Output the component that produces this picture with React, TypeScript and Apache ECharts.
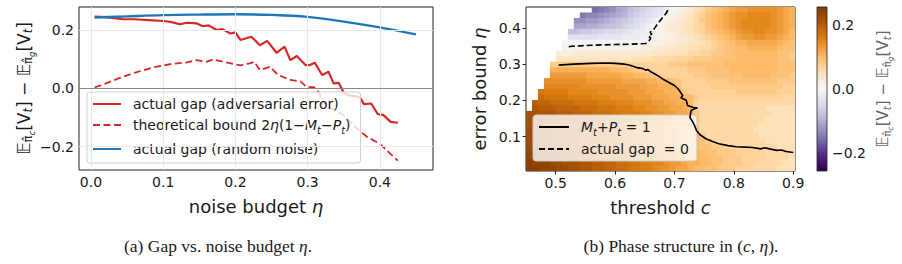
import React, { useEffect, useRef } from 'react';
import * as echarts from 'echarts';

// ---------- (a) gap vs. noise budget ----------
const etaAdv = [0.005, 0.02, 0.035, 0.045, 0.06, 0.08, 0.1, 0.11, 0.123, 0.133, 0.146, 0.155, 0.163, 0.174, 0.182, 0.193, 0.2, 0.207, 0.222, 0.234, 0.244, 0.257, 0.268, 0.276, 0.285, 0.297, 0.303, 0.31, 0.32, 0.329, 0.336, 0.343, 0.351, 0.36, 0.372, 0.378, 0.388, 0.397, 0.405, 0.415, 0.425];
const gapAdv = [0.246, 0.244, 0.24, 0.237, 0.237, 0.234, 0.231, 0.228, 0.22, 0.225, 0.223, 0.213, 0.216, 0.2, 0.203, 0.188, 0.192, 0.166, 0.177, 0.148, 0.163, 0.122, 0.143, 0.097, 0.111, 0.08, 0.08, 0.088, 0.046, 0.057, 0.017, 0.019, -0.019, -0.025, -0.03, -0.054, -0.052, -0.088, -0.092, -0.115, -0.118];

const etaBound = [0.005, 0.02, 0.04, 0.06, 0.086, 0.11, 0.133, 0.146, 0.16, 0.169, 0.183, 0.2, 0.207, 0.22, 0.226, 0.234, 0.248, 0.259, 0.271, 0.278, 0.29, 0.299, 0.309, 0.315, 0.326, 0.338, 0.35, 0.368, 0.382, 0.4, 0.414, 0.425];
const gapBound = [0.003, 0.016, 0.036, 0.053, 0.072, 0.083, 0.089, 0.097, 0.091, 0.099, 0.091, 0.082, 0.079, 0.086, 0.091, 0.063, 0.074, 0.046, 0.034, 0.028, 0.024, 0.004, 0.004, -0.012, -0.06, -0.075, -0.092, -0.137, -0.166, -0.19, -0.223, -0.248];

const etaRand = [0.005, 0.05, 0.1, 0.15, 0.2, 0.25, 0.3, 0.35, 0.4, 0.45];
const gapRand = [0.243, 0.247, 0.251, 0.253, 0.254, 0.252, 0.245, 0.229, 0.209, 0.185];

const xTicksA = [0, 0.1, 0.2, 0.3, 0.4];
const yTicksA = [-0.2, 0, 0.2];

// ---------- (b) phase structure ----------
// gap in hundredths, rows from eta = 0.4475 (top) down to eta = 0.0125 (bottom),
// columns from c = 0.455 to c = 0.895; null = not evaluated
const _ = null;
const gapRows: (number | null)[][] = [
  [_, _, _, _, _, _, _, _, _, _, _, -16, -15, -14, -13, -11, -10, -8, -7, -6, -5, -4, -3, -2, 0, 1, 2, 3, 5, 6, 8, 9, 10, 11, 12, 13, 13, 14, 14, 14, 14, 14, 13, 12, 11],
  [_, _, _, _, _, _, _, _, _, -15, -14, -14, -13, -12, -11, -10, -9, -7, -6, -5, -4, -3, -2, 0, 1, 2, 3, 4, 6, 7, 9, 10, 11, 12, 13, 14, 14, 15, 15, 15, 15, 14, 13, 12, 11],
  [_, _, _, _, _, _, _, _, -13, -13, -12, -12, -11, -10, -9, -8, -7, -6, -5, -4, -3, -1, 0, 1, 2, 3, 4, 5, 6, 8, 9, 10, 11, 12, 13, 14, 15, 15, 15, 15, 15, 14, 13, 12, 11],
  [_, _, _, _, _, _, _, _, -11, -11, -10, -10, -9, -8, -8, -7, -6, -5, -4, -3, -1, 0, 1, 2, 3, 3, 4, 5, 6, 7, 9, 10, 11, 12, 13, 14, 15, 15, 15, 15, 15, 14, 13, 12, 11],
  [_, _, _, _, _, _, _, -8, -8, -7, -7, -6, -6, -5, -5, -4, -4, -3, -2, -2, -1, 0, 1, 2, 2, 3, 4, 5, 6, 7, 8, 9, 10, 11, 12, 13, 14, 14, 15, 15, 14, 14, 13, 12, 10],
  [_, _, _, _, _, _, _, -4, -4, -4, -4, -4, -3, -3, -3, -3, -2, -2, -2, -1, -1, 1, 1, 2, 2, 3, 3, 4, 5, 6, 7, 8, 9, 10, 11, 12, 13, 13, 14, 14, 13, 13, 12, 11, 10],
  [_, _, _, _, _, _, 0, -0.5, -0.5, -0.5, -0.5, -0.5, -0.5, -0.5, -0.5, -0.5, -0.5, -0.5, -0.5, -0.5, -0.5, 1, 1, 2, 2, 3, 3, 4, 4, 5, 6, 7, 8, 9, 10, 11, 11, 12, 12, 12, 12, 12, 11, 10, 9],
  [_, _, _, _, _, _, 1, 1, 1, 1, 1, 1, 1, 1, 1, 1, 1, 1, 1, 2, 2, 2, 3, 3, 3, 4, 4, 5, 5, 6, 6, 7, 8, 9, 9, 10, 10, 11, 11, 11, 11, 11, 10, 9, 9],
  [_, _, _, _, _, 2, 2, 2, 3, 3, 3, 3, 3, 3, 3, 3, 3, 3, 3, 3, 3, 4, 4, 4, 5, 5, 5, 6, 6, 7, 7, 8, 8, 9, 9, 10, 10, 10, 10, 10, 10, 10, 9, 9, 8],
  [_, _, _, _, _, 4, 4, 4, 4, 4, 4, 4, 4, 4, 4, 4, 4, 4, 5, 5, 5, 6, 6, 6, 6, 7, 7, 7, 8, 8, 8, 9, 9, 9, 9, 10, 10, 10, 10, 10, 10, 10, 9, 9, 8],
  [_, _, _, _, 8, 8, 8, 8, 8, 8, 8, 8, 8, 8, 8, 8, 7, 7, 7, 7, 7, 7, 7, 7, 8, 8, 8, 9, 9, 9, 9, 9, 9, 10, 10, 10, 10, 10, 10, 10, 10, 10, 9, 9, 9],
  [_, _, _, _, 11, 11, 11, 11, 11, 11, 11, 11, 11, 11, 10, 10, 10, 9, 8, 7, 7, 7, 7, 7, 7, 7, 7, 8, 8, 8, 9, 9, 9, 9, 10, 10, 10, 10, 10, 10, 10, 10, 9, 9, 9],
  [_, _, _, _, 13, 13, 13, 13, 13, 13, 12, 12, 12, 12, 12, 12, 11, 11, 10, 10, 9, 8, 7, 7, 7, 7, 7, 7, 8, 8, 8, 9, 9, 9, 9, 9, 10, 10, 10, 10, 10, 9, 9, 9, 8],
  [_, _, _, 14, 14, 14, 14, 14, 14, 14, 13, 13, 13, 13, 13, 13, 12, 12, 12, 12, 11, 11, 10, 10, 9, 8, 7, 7, 7, 7, 8, 8, 8, 8, 9, 9, 9, 9, 9, 9, 9, 9, 8, 8, 8],
  [_, _, _, 15, 15, 15, 15, 15, 15, 14, 14, 14, 14, 14, 14, 13, 13, 13, 13, 12, 12, 12, 11, 11, 11, 9, 7, 7, 7, 7, 7, 8, 8, 8, 8, 8, 8, 8, 8, 8, 8, 8, 8, 7, 7],
  [_, _, 17, 16, 16, 16, 16, 15, 15, 15, 15, 15, 14, 14, 14, 14, 14, 13, 13, 13, 12, 12, 12, 11, 11, 10, 8, 7, 7, 7, 7, 7, 7, 7, 7, 8, 8, 8, 8, 8, 8, 8, 7, 7, 7],
  [_, _, 18, 17, 17, 17, 17, 16, 16, 16, 16, 15, 15, 15, 14, 14, 14, 14, 13, 13, 13, 12, 12, 12, 11, 11, 10, 10, 8, 7, 7, 7, 7, 7, 7, 7, 7, 7, 7, 7, 7, 7, 7, 6, 6],
  [_, 20, 19, 19, 18, 18, 18, 18, 17, 17, 17, 17, 16, 16, 16, 15, 15, 15, 14, 14, 14, 13, 13, 12, 12, 11, 11, 10, 7, 6, 6, 6, 6, 6, 6, 6, 6, 6, 6, 6, 6, 6, 6, 6, 6],
  [_, 21, 20, 20, 20, 19, 19, 19, 19, 18, 18, 18, 17, 17, 17, 16, 16, 16, 15, 15, 14, 14, 13, 13, 12, 12, 11, 10, 6, 6, 6, 6, 6, 6, 6, 6, 6, 6, 6, 6, 5, 5, 5, 5, 5],
  [22, 22, 21, 21, 21, 20, 20, 20, 19, 19, 19, 18, 18, 18, 17, 17, 16, 16, 16, 15, 15, 14, 14, 13, 13, 12, 12, 11, 8, 6, 6, 6, 6, 6, 6, 6, 6, 6, 6, 6, 6, 5, 5, 5, 5],
  [22, 22, 22, 21, 21, 21, 20, 20, 20, 19, 19, 19, 18, 18, 18, 17, 17, 16, 16, 16, 15, 15, 14, 14, 13, 13, 12, 12, 9, 6, 6, 6, 6, 6, 6, 6, 6, 6, 6, 6, 5, 5, 5, 5, 5],
  [22, 22, 22, 21, 21, 21, 20, 20, 19, 19, 19, 18, 18, 17, 17, 17, 16, 16, 15, 15, 14, 14, 13, 13, 12, 12, 12, 11, 8, 6, 6, 6, 6, 6, 6, 6, 6, 6, 6, 5, 5, 5, 5, 5, 5],
  [23, 22, 22, 21, 21, 21, 20, 20, 20, 19, 19, 18, 18, 17, 17, 17, 16, 16, 15, 15, 14, 14, 13, 13, 13, 12, 12, 11, 9, 6, 6, 6, 6, 6, 6, 6, 6, 6, 5, 5, 5, 5, 5, 5, 5],
  [23, 22, 22, 22, 21, 21, 20, 20, 20, 19, 19, 18, 18, 18, 17, 17, 16, 16, 15, 15, 14, 14, 14, 13, 13, 12, 12, 11, 10, 8, 6, 6, 6, 6, 6, 6, 6, 6, 6, 5, 5, 5, 5, 5, 5],
  [23, 22, 22, 22, 21, 21, 21, 20, 20, 19, 19, 19, 18, 18, 17, 17, 16, 16, 15, 15, 15, 14, 14, 13, 13, 12, 12, 11, 10, 9, 8, 7, 6, 6, 6, 6, 6, 6, 6, 6, 5, 5, 5, 5, 5],
  [23, 23, 22, 22, 22, 21, 21, 20, 20, 20, 19, 19, 18, 18, 17, 17, 16, 16, 16, 15, 15, 14, 14, 13, 13, 12, 12, 11, 10, 9, 9, 8, 8, 7, 7, 6, 6, 6, 6, 6, 6, 6, 5, 5, 5],
  [24, 24, 23, 23, 23, 22, 22, 22, 21, 21, 20, 20, 19, 19, 18, 18, 18, 17, 17, 16, 16, 15, 15, 14, 14, 13, 13, 12, 11, 10, 9, 9, 8, 8, 8, 7, 7, 7, 7, 7, 6, 6, 6, 6, 5],
  [24, 24, 24, 23, 23, 23, 22, 22, 21, 21, 20, 20, 19, 19, 19, 18, 18, 17, 17, 16, 16, 15, 15, 14, 14, 13, 12, 12, 11, 10, 10, 9, 9, 8, 8, 8, 7, 7, 7, 7, 6, 6, 6, 6, 5],
  [25, 24, 24, 24, 23, 23, 22, 22, 22, 21, 21, 20, 20, 19, 19, 18, 18, 17, 17, 16, 16, 15, 15, 14, 13, 13, 12, 11, 11, 10, 10, 9, 9, 8, 8, 8, 7, 7, 7, 6, 6, 6, 6, 5, 5],
  [25, 25, 24, 24, 24, 23, 23, 22, 22, 21, 21, 20, 20, 19, 19, 18, 18, 17, 17, 16, 16, 15, 14, 14, 13, 12, 12, 11, 10, 10, 9, 9, 8, 8, 8, 7, 7, 7, 6, 6, 6, 6, 5, 5, 5],
];

// contour M_t + P_t = 1 in (c, eta)
const mpC = [0.505, 0.53, 0.56, 0.585, 0.6, 0.615, 0.625, 0.635, 0.647, 0.652, 0.655, 0.661, 0.67, 0.68, 0.69, 0.7, 0.706, 0.714, 0.711, 0.72, 0.722, 0.727, 0.731, 0.739, 0.733, 0.728, 0.726, 0.731, 0.734, 0.737, 0.743, 0.753, 0.765, 0.775, 0.79, 0.804, 0.818, 0.832, 0.845, 0.852, 0.86, 0.872, 0.88, 0.888, 0.9];
const mpEta = [0.297, 0.3, 0.302, 0.303, 0.302, 0.3, 0.297, 0.291, 0.2875, 0.283, 0.285, 0.278, 0.27, 0.259, 0.25, 0.241, 0.232, 0.2135, 0.207, 0.2, 0.186, 0.183, 0.181, 0.179, 0.176, 0.172, 0.153, 0.14, 0.13, 0.117, 0.105, 0.094, 0.086, 0.08, 0.075, 0.072, 0.071, 0.07, 0.066, 0.069, 0.066, 0.062, 0.063, 0.059, 0.056];

// contour of zero actual gap
const zeroC = [0.522, 0.527, 0.56, 0.6, 0.63, 0.652, 0.657, 0.66, 0.656, 0.662, 0.659, 0.664, 0.667, 0.671, 0.676, 0.681, 0.686, 0.69];
const zeroEta = [0.348, 0.349, 0.352, 0.354, 0.355, 0.357, 0.364, 0.372, 0.378, 0.382, 0.388, 0.393, 0.4, 0.41, 0.42, 0.43, 0.44, 0.453];

const xTicksB = [0.5, 0.6, 0.7, 0.8, 0.9];
const yTicksB = [0.1, 0.2, 0.3, 0.4];
const cbarTicks = [-0.2, 0, 0.2];

// matplotlib PuOr reversed (low -> high)
const PUOR_R = ['#2d004b', '#542788', '#8073ac', '#b2abd2', '#d8daeb', '#f7f7f7', '#fee0b6', '#fdb863', '#e08214', '#b35806', '#7f3b08'];
const CBAR_LIM = 0.258;

const C_MIN = 0.45, C_MAX = 0.903, ETA_MIN = 0.005, ETA_MAX = 0.4575;

const FONT = 'DejaVu Sans';
const SERIF = 'Liberation Serif';
const INK = '#1a1a1a';
const RED = '#d62728';
const BLUE = '#1f77b4';

const fmt1 = (v: number) => (v < 0 ? '\u2212' + Math.abs(v).toFixed(1) : v.toFixed(1));

function mathRich(size: number, color: string) {
  return {
    E: { fontFamily: FONT, fontSize: size, color },
    n: { fontFamily: FONT, fontSize: size, color },
    s: { fontFamily: FONT, fontSize: size * 0.68, color, verticalAlign: 'bottom', padding: [0, 0, -2, 0] },
    ss: { fontFamily: FONT, fontSize: size * 0.5, color, fontStyle: 'italic', verticalAlign: 'bottom', padding: [0, 0, -4, 0] },
    t: { fontFamily: FONT, fontSize: size * 0.68, color, fontStyle: 'italic', verticalAlign: 'bottom', padding: [0, 0, -2, 0] },
    i: { fontFamily: FONT, fontSize: size, color, fontStyle: 'italic' },
  };
}

const GAP_LABEL = '{E|\u{1D53C}}{s|\u03C0\u0302}{ss|c}{n|[V}{t|t}{n|] \u2212 }{E|\u{1D53C}}{s|\u03C0\u0302}{ss|g}{n|[V}{t|t}{n|]}';

export default function App() {
  const ref = useRef<HTMLDivElement>(null);

  useEffect(() => {
    if (!ref.current) return;
    const chart = echarts.init(ref.current, null, { renderer: 'svg' });

    const nC = gapRows[0].length;
    const nE = gapRows.length;
    const dc = (C_MAX - C_MIN) / nC;
    const de = (ETA_MAX - ETA_MIN) / nE;
    const heat: number[][] = [];
    gapRows.forEach((row, r) => {
      const i = nE - 1 - r;
      row.forEach((v, j) => {
        if (v === null) return;
        heat.push([C_MIN + (j + 0.5) * dc, ETA_MIN + (i + 0.5) * de, v / 100]);
      });
    });

    const pair = (xs: number[], ys: number[]) => xs.map((x, k) => [x, ys[k]]);

    const tickStyle = { show: true, inside: false, length: 3.5, lineStyle: { color: '#222', width: 1 } };
    const labelStyle = { fontFamily: FONT, fontSize: 14, color: INK };
    const italic18 = { i: { fontFamily: FONT, fontSize: 18, color: INK, fontStyle: 'italic' } };

    const legendText = {
      fontFamily: FONT,
      fontSize: 14,
      color: INK,
      padding: [0, 0, 0, 7],
      rich: {
        i: { fontFamily: FONT, fontSize: 14, color: INK, fontStyle: 'italic' },
        s: { fontFamily: FONT, fontSize: 10, color: INK, fontStyle: 'italic', verticalAlign: 'bottom', padding: [0, 0, -3, 0] },
        n: { fontFamily: FONT, fontSize: 14, color: INK },
      },
    };
    const legendLabels: Record<string, string> = {
      adv: 'actual gap (adversarial error)',
      bound: 'theoretical bound 2{i|\u03B7}(1\u2212{i|M}{s|t}\u2212{i|P}{s|t})',
      rand: 'actual gap (random noise)',
      mp: '{i|M}{s|t}+{i|P}{s|t}{n| = 1}',
      zero: 'actual gap  = 0',
    };
    const legendBox = {
      orient: 'vertical',
      backgroundColor: 'rgba(255,255,255,0.8)',
      borderColor: '#cccccc',
      borderWidth: 1,
      borderRadius: 3,
      selectedMode: false,
      itemStyle: { opacity: 0 },
      formatter: (name: string) => legendLabels[name],
      textStyle: legendText,
    };

    const gradStops = PUOR_R.slice().reverse().map((color, k) => ({ offset: k / (PUOR_R.length - 1), color }));

    chart.setOption({
      animation: false,
      backgroundColor: '#ffffff',
      grid: [
        { left: 79, top: 7, width: 354, height: 163, show: true, borderColor: '#222', borderWidth: 1, backgroundColor: 'transparent', outerBoundsMode: 'none' },
        { left: 526, top: 7, width: 269, height: 164, show: true, borderColor: '#222', borderWidth: 1, backgroundColor: 'transparent', outerBoundsMode: 'none' },
        { left: 817, top: 7, width: 10, height: 164, show: false, outerBoundsMode: 'none' },
      ],
      xAxis: [
        {
          gridIndex: 0, type: 'value', min: -0.0166, max: 0.4736,
          splitLine: { show: false }, axisLine: { show: false },
          axisTick: { ...tickStyle, customValues: xTicksA },
          axisLabel: { ...labelStyle, customValues: xTicksA, formatter: fmt1, margin: 5 },
          name: 'noise budget {i|\u03B7}', nameLocation: 'middle', nameGap: 27,
          nameTextStyle: { fontFamily: FONT, fontSize: 18, color: INK, rich: italic18 },
        },
        {
          gridIndex: 1, type: 'value', min: C_MIN, max: C_MAX,
          splitLine: { show: false }, axisLine: { show: false },
          axisTick: { ...tickStyle, customValues: xTicksB },
          axisLabel: { ...labelStyle, customValues: xTicksB, formatter: fmt1, margin: 5 },
          name: 'threshold {i|c}', nameLocation: 'middle', nameGap: 27,
          nameTextStyle: { fontFamily: FONT, fontSize: 18, color: INK, rich: italic18 },
        },
        { gridIndex: 2, type: 'value', min: 0, max: 1, show: false },
      ],
      yAxis: [
        {
          gridIndex: 0, type: 'value', min: -0.28, max: 0.279,
          splitLine: { show: false }, axisLine: { show: false },
          axisTick: { ...tickStyle, customValues: yTicksA },
          axisLabel: { ...labelStyle, customValues: yTicksA, formatter: fmt1, margin: 5 },
          name: GAP_LABEL, nameLocation: 'middle', nameGap: 47, nameRotate: 90,
          nameTextStyle: { fontFamily: FONT, fontSize: 17, color: INK, rich: mathRich(17, INK) },
        },
        {
          gridIndex: 1, type: 'value', min: ETA_MIN, max: ETA_MAX,
          splitLine: { show: false }, axisLine: { show: false },
          axisTick: { ...tickStyle, customValues: yTicksB },
          axisLabel: { ...labelStyle, customValues: yTicksB, formatter: fmt1, margin: 5 },
          name: 'error bound {i|\u03B7}', nameLocation: 'middle', nameGap: 38, nameRotate: 90,
          nameTextStyle: { fontFamily: FONT, fontSize: 18, color: INK, rich: italic18 },
        },
        {
          gridIndex: 2, type: 'value', position: 'right', min: -CBAR_LIM, max: CBAR_LIM,
          splitLine: { show: false }, axisLine: { show: false },
          axisTick: { ...tickStyle, customValues: cbarTicks },
          axisLabel: { ...labelStyle, customValues: cbarTicks, formatter: fmt1, margin: 5 },
          name: GAP_LABEL, nameLocation: 'middle', nameGap: 48, nameRotate: 90,
          nameTextStyle: { fontFamily: FONT, fontSize: 15, color: '#666', rich: mathRich(15, '#666') },
        },
      ],
      visualMap: {
        type: 'continuous', show: false, seriesIndex: 4, dimension: 2,
        min: -CBAR_LIM, max: CBAR_LIM, inRange: { color: PUOR_R },
      },
      legend: [
        {
          ...legendBox,
          data: ['adv', 'bound', 'rand'], left: 87, top: 92,
          itemWidth: 28, itemHeight: 16, itemGap: 7, padding: [5, 10, 7, 5],
        },
        {
          ...legendBox,
          data: ['mp', 'zero'], left: 533, top: 115,
          itemWidth: 30, itemHeight: 16, itemGap: 5, padding: [5, 8, 5, 5],
        },
      ],
      graphic: [
        {
          type: 'text', x: 218, y: 246, silent: true,
          style: {
            text: '(a) Gap vs. noise budget {i|\u03B7}.', fill: INK, fontFamily: SERIF, fontSize: 17.5,
            textAlign: 'center', textVerticalAlign: 'middle',
            rich: { i: { fontFamily: SERIF, fontSize: 17.5, fontStyle: 'italic', fill: INK, color: INK } },
          },
        },
        {
          type: 'text', x: 681, y: 246, silent: true,
          style: {
            text: '(b) Phase structure in ({i|c}, {i|\u03B7}).', fill: INK, fontFamily: SERIF, fontSize: 17.5,
            textAlign: 'center', textVerticalAlign: 'middle',
            rich: { i: { fontFamily: SERIF, fontSize: 17.5, fontStyle: 'italic', fill: INK, color: INK } },
          },
        },
      ],
      series: [
        {
          // reference lines of panel (a)
          type: 'line', name: 'refs', xAxisIndex: 0, yAxisIndex: 0, z: 1, silent: true,
          data: [[0, 0], [0.1, 0]], symbol: 'none', lineStyle: { opacity: 0 },
          markLine: {
            silent: true, symbol: ['none', 'none'], label: { show: false }, animation: false,
            data: [
              ...xTicksA.map((v) => ({ xAxis: v, lineStyle: { color: '#e8e8e8', width: 1, type: 'solid' } })),
              { yAxis: -0.2, lineStyle: { color: '#e8e8e8', width: 1, type: 'solid' } },
              { yAxis: 0.2, lineStyle: { color: '#e8e8e8', width: 1, type: 'solid' } },
              { yAxis: 0, lineStyle: { color: '#888888', width: 1, type: 'solid' } },
            ],
          },
        },
        {
          type: 'line', name: 'adv', xAxisIndex: 0, yAxisIndex: 0, z: 3,
          data: pair(etaAdv, gapAdv), symbol: 'none', showSymbol: false,
          lineStyle: { color: RED, width: 2.2 }, itemStyle: { color: RED },
        },
        {
          type: 'line', name: 'bound', xAxisIndex: 0, yAxisIndex: 0, z: 3,
          data: pair(etaBound, gapBound), symbol: 'none', showSymbol: false,
          lineStyle: { color: RED, width: 1.8, type: [7, 3.5] }, itemStyle: { color: RED },
        },
        {
          type: 'line', name: 'rand', xAxisIndex: 0, yAxisIndex: 0, z: 3,
          data: pair(etaRand, gapRand), symbol: 'none', showSymbol: false, smooth: 0.4,
          lineStyle: { color: BLUE, width: 2.4 }, itemStyle: { color: BLUE },
        },
        {
          type: 'custom', name: 'phase', xAxisIndex: 1, yAxisIndex: 1, z: 1, clip: true,
          encode: { x: 0, y: 1 },
          data: heat,
          renderItem: (_p: any, api: any) => {
            const x = api.value(0);
            const y = api.value(1);
            const a = api.coord([x - dc / 2, y + de / 2]);
            const b = api.coord([x + dc / 2, y - de / 2]);
            return {
              type: 'rect',
              shape: { x: a[0], y: a[1], width: b[0] - a[0] + 0.6, height: b[1] - a[1] + 0.6 },
              style: { fill: api.visual('color') },
            };
          },
        },
        {
          type: 'line', name: 'mp', xAxisIndex: 1, yAxisIndex: 1, z: 4,
          data: pair(mpC, mpEta), symbol: 'none', showSymbol: false,
          lineStyle: { color: '#000', width: 1.6 }, itemStyle: { color: '#000' },
        },
        {
          type: 'line', name: 'zero', xAxisIndex: 1, yAxisIndex: 1, z: 4,
          data: pair(zeroC, zeroEta), symbol: 'none', showSymbol: false,
          lineStyle: { color: '#000', width: 1.6, type: [6, 3] }, itemStyle: { color: '#000' },
        },
        {
          // colour bar
          type: 'custom', name: 'cbar', xAxisIndex: 2, yAxisIndex: 2, silent: true,
          data: [[0, CBAR_LIM, 1, -CBAR_LIM]],
          renderItem: (_p: any, api: any) => {
            const a = api.coord([api.value(0), api.value(1)]);
            const b = api.coord([api.value(2), api.value(3)]);
            return {
              type: 'rect',
              shape: { x: a[0], y: a[1], width: b[0] - a[0], height: b[1] - a[1] },
              style: { fill: new echarts.graphic.LinearGradient(0, 0, 0, 1, gradStops), stroke: '#222', lineWidth: 0.8 },
            };
          },
        },
      ],
    });

    return () => chart.dispose();
  }, []);

  return (
    <div
      ref={ref}
      style={{ position: 'fixed', left: 0, top: 0, width: 902, height: 264, background: '#fff' }}
    />
  );
}
